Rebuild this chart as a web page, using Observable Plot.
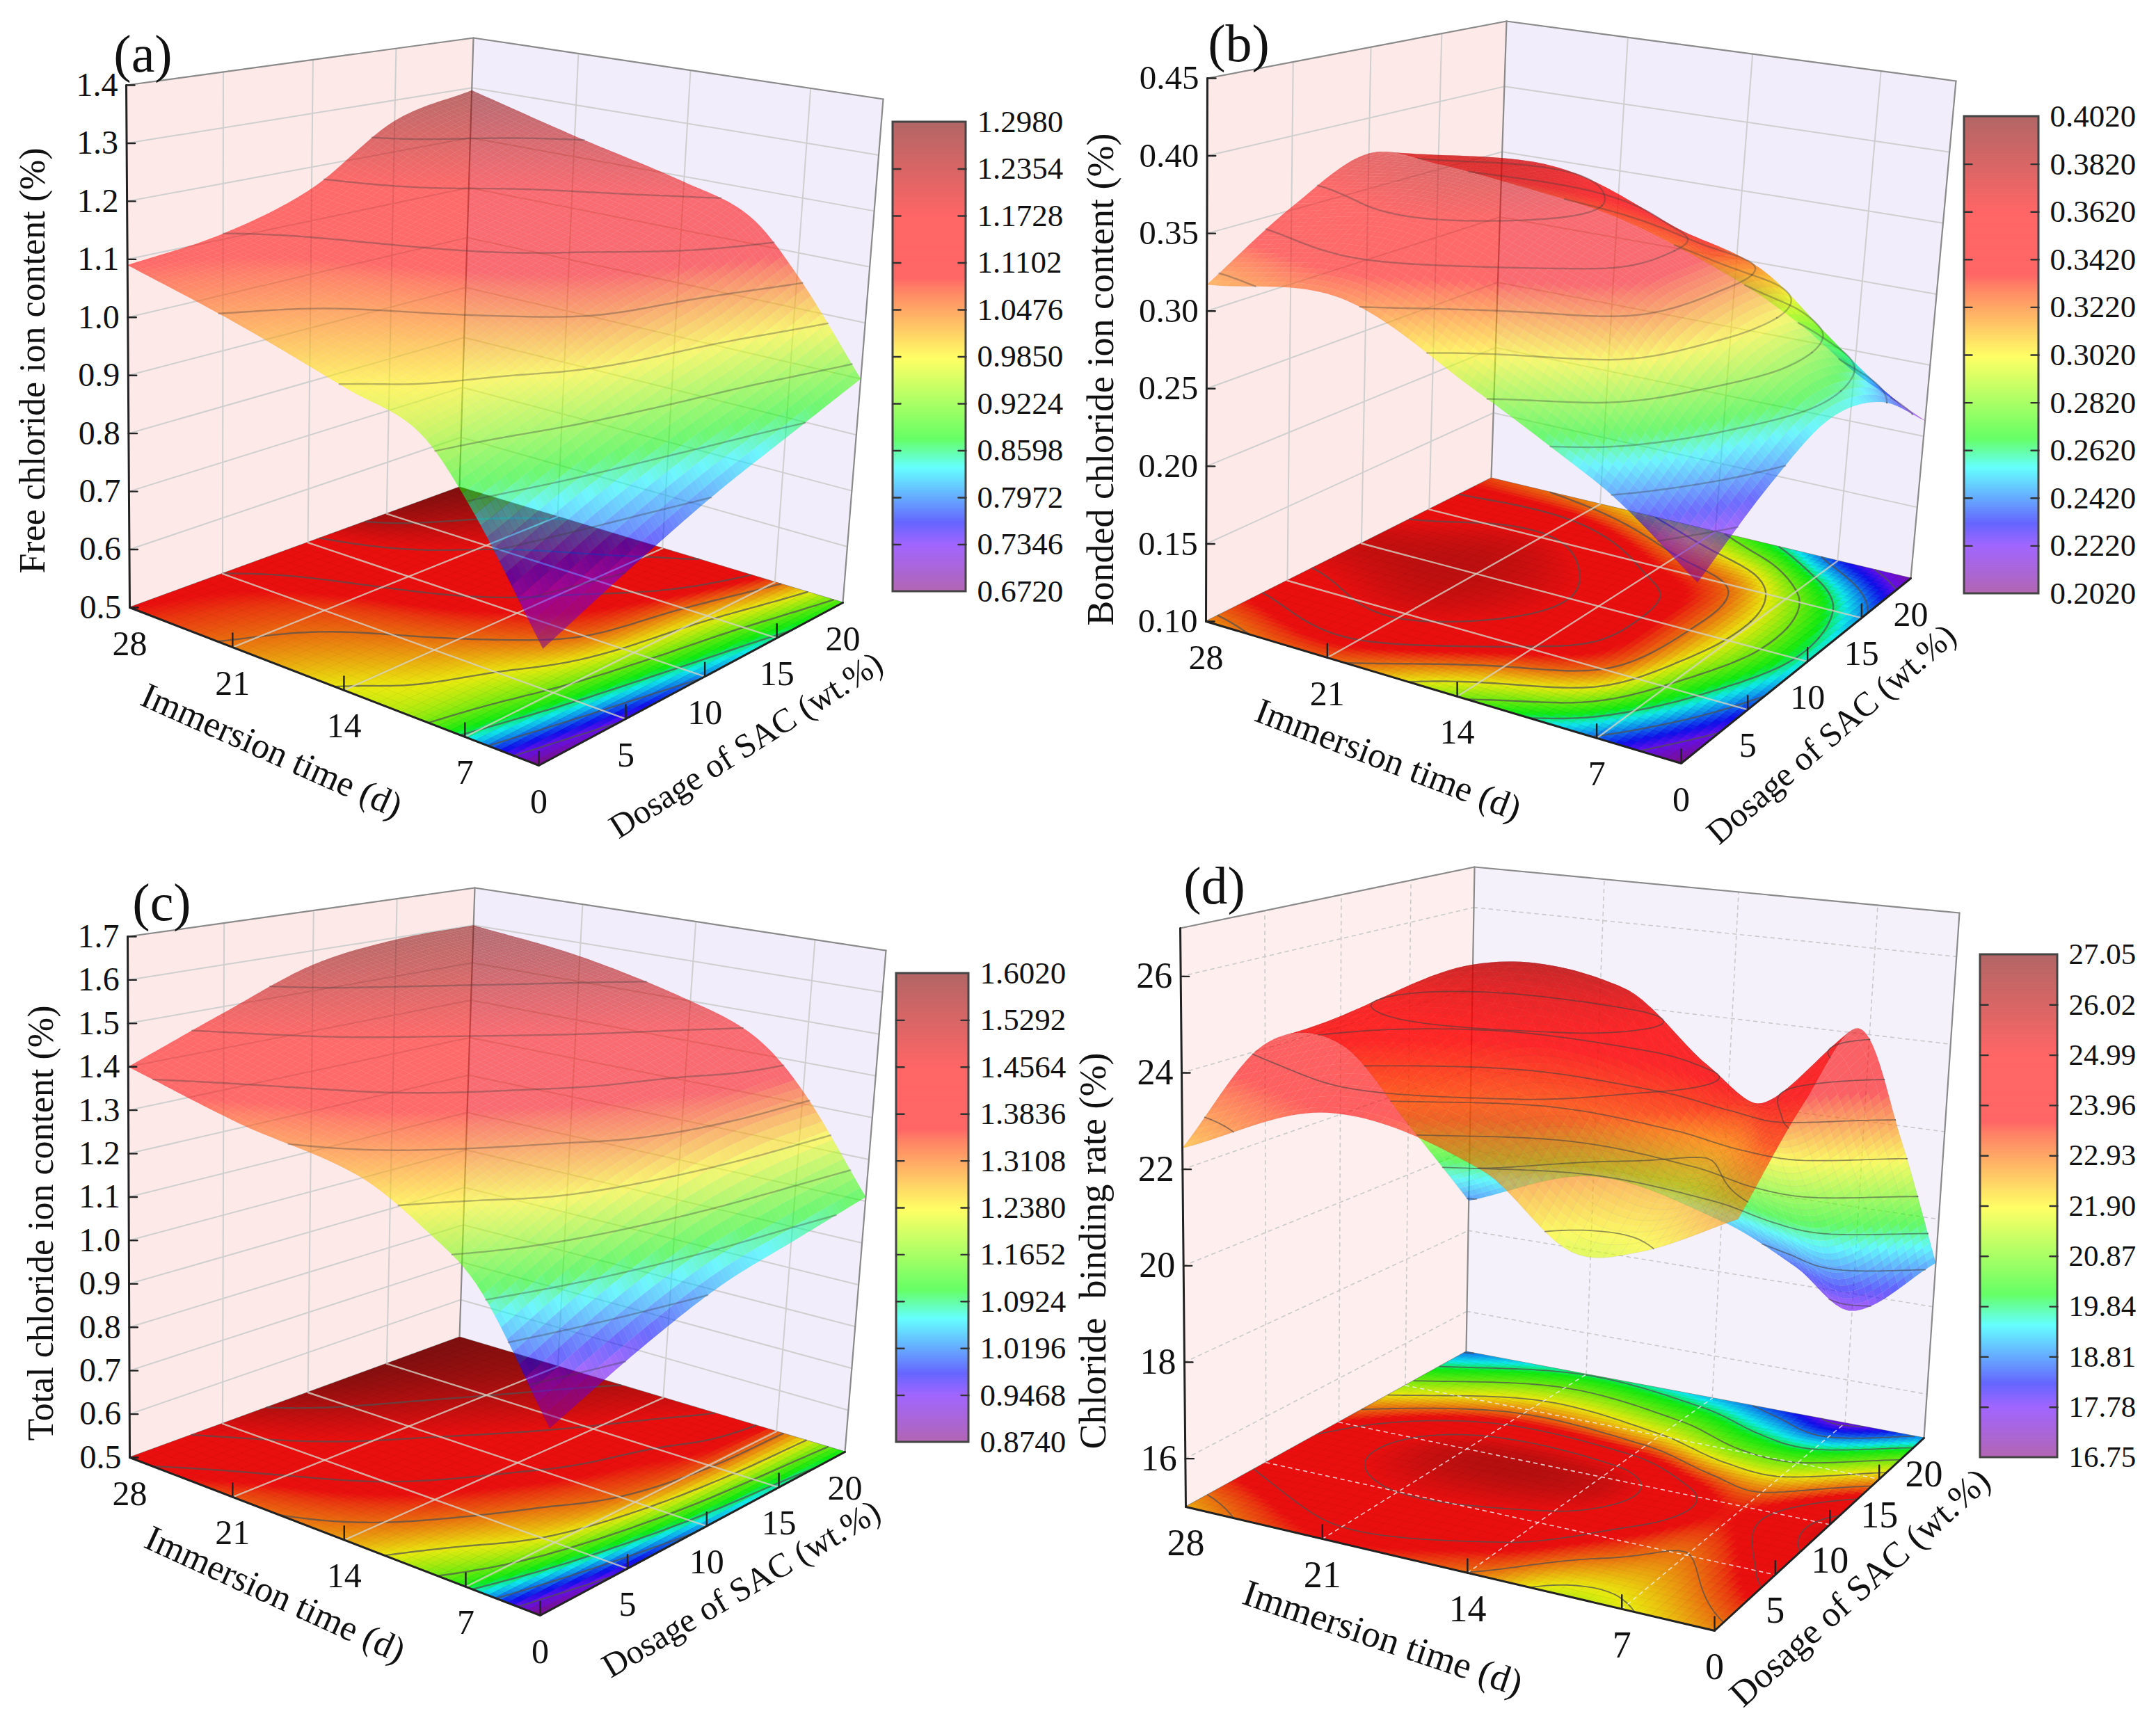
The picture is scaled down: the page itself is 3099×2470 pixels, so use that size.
<!DOCTYPE html>
<html>
<head>
<meta charset="utf-8">
<script src="https://cdn.jsdelivr.net/npm/d3@7"></script>
<script src="https://cdn.jsdelivr.net/npm/@observablehq/plot@0.6"></script>
<style>
html,body{margin:0;padding:0;background:#fff}
#root{position:relative;width:3099px;height:2470px;background:#fff;overflow:hidden}
</style>
</head>
<body>
<div id="root"></div>
<script>
// ---------- values (estimates) ----------
const times = [3, 7, 10, 14, 21, 28];
const dosages = [0, 5, 10, 15, 20];
const timeTicks = [28, 21, 14, 7];
const dosageTicks = [0, 5, 10, 15, 20];

// rows = times, columns = dosages
const freeChloride = [
  [0.675, 0.74, 0.80, 0.85, 0.90],
  [0.85, 0.91, 0.96, 1.00, 1.06],
  [0.945, 0.98, 1.05, 1.09, 1.15],
  [0.98, 1.03, 1.09, 1.13, 1.19],
  [1.04, 1.07, 1.13, 1.18, 1.24],
  [1.09, 1.11, 1.16, 1.26, 1.295]
];
const bondedChloride = [
  [0.204, 0.235, 0.255, 0.245, 0.211],
  [0.24, 0.28, 0.30, 0.29, 0.235],
  [0.26, 0.32, 0.33, 0.32, 0.26],
  [0.285, 0.34, 0.355, 0.335, 0.285],
  [0.325, 0.365, 0.378, 0.365, 0.315],
  [0.317, 0.352, 0.375, 0.354, 0.328]
];
const totalChloride = [
  [0.874, 0.96, 1.03, 1.07, 1.11],
  [1.11, 1.21, 1.28, 1.32, 1.33],
  [1.20, 1.285, 1.345, 1.38, 1.44],
  [1.28, 1.35, 1.40, 1.45, 1.50],
  [1.33, 1.42, 1.48, 1.53, 1.565],
  [1.40, 1.485, 1.565, 1.595, 1.60]
];
const bindingRate = [
  [22.7, 24.3, 25.3, 22.4, 19.0],
  [21.8, 22.9, 23.5, 20.9, 17.6],
  [21.6, 23.5, 24.2, 21.0, 18.4],
  [22.9, 24.6, 25.6, 22.0, 19.2],
  [23.6, 25.0, 25.7, 22.6, 19.8],
  [22.44, 24.1, 23.6, 21.2, 18.74]
];

const zTicksA = [0.5, 0.6, 0.7, 0.8, 0.9, 1.0, 1.1, 1.2, 1.3, 1.4];
const zTicksB = [0.10, 0.15, 0.20, 0.25, 0.30, 0.35, 0.40, 0.45];
const zTicksC = [0.5, 0.6, 0.7, 0.8, 0.9, 1.0, 1.1, 1.2, 1.3, 1.4, 1.5, 1.6, 1.7];
const zTicksD = [16, 18, 20, 22, 24, 26];

const barLabelsA = ["1.2980","1.2354","1.1728","1.1102","1.0476","0.9850","0.9224","0.8598","0.7972","0.7346","0.6720"];
const barLabelsB = ["0.4020","0.3820","0.3620","0.3420","0.3220","0.3020","0.2820","0.2620","0.2420","0.2220","0.2020"];
const barLabelsC = ["1.6020","1.5292","1.4564","1.3836","1.3108","1.2380","1.1652","1.0924","1.0196","0.9468","0.8740"];
const barLabelsD = ["27.05","26.02","24.99","23.96","22.93","21.90","20.87","19.84","18.81","17.78","16.75"];

// palette: position along the colour bar, and the colour there
const paletteStops = [0, 0.10, 0.147, 0.264, 0.325, 0.497, 0.644, 0.668, 0.80, 1];
const paletteColors = ["rgb(128,0,128)","rgb(100,0,255)","rgb(0,0,255)","rgb(0,255,255)","rgb(0,255,0)","rgb(255,255,0)","rgb(255,47,0)","rgb(255,0,0)","rgb(255,0,0)","rgb(128,0,0)"];

// ---------- layout of the four panels ----------
const FONT = "Liberation Serif";
const panels = [
  {letter:"(a)", values:freeChloride, zTicks:zTicksA, zDigits:1, zDomain:[0.5,1.4], barLabels:barLabelsA,
   zLabel:"Free chloride ion content (%)", frame:[0,1545,0,1240],
   LF:[186,873],BF:[660,700],RF:[1211,866],FF:[774,1100],LT:[181,122],BT:[680,54],RT:[1269,142],
   bar:[1283,1388,175,850], barFont:45, tickFont:48, axisFont:50, surf:0.55, dotted:false,
   zLab:[47,518,52], tLab:[390,1079,24,52], dLab:[1072,1071,-32.5,49], letterAt:[205,78]},
  {letter:"(b)", values:bondedChloride, zTicks:zTicksB, zDigits:2, zDomain:[0.10,0.45], barLabels:barLabelsB,
   zLabel:"Bonded chloride ion content (%)", frame:[1545,3099,0,1240],
   LF:[1733,893],BF:[2143,687],RF:[2746,831],FF:[2416,1097],LT:[1735,112],BT:[2165,30],RT:[2811,116],
   bar:[2823,2930,167,853], barFont:45, tickFont:49, axisFont:50, surf:0.55, dotted:false,
   zLab:[1582,545,54], tLab:[1995,1092,21,52], dLab:[2632,1055,-40.8,49], letterAt:[1780,63]},
  {letter:"(c)", values:totalChloride, zTicks:zTicksC, zDigits:1, zDomain:[0.5,1.7], barLabels:barLabelsC,
   zLabel:"Total chloride ion content (%)", frame:[0,1545,1240,2470],
   LF:[186,2095],BF:[660,1922],RF:[1214,2087],FF:[776,2322],LT:[183,1346],BT:[682,1276],RT:[1273,1366],
   bar:[1288,1392,1399,2073], barFont:45, tickFont:48, axisFont:50, surf:0.55, dotted:false,
   zLab:[59,1758,52], tLab:[395,2292,24.5,52], dLab:[1065,2284,-30.5,49], letterAt:[232,1298]},
  {letter:"(d)", values:bindingRate, zTicks:zTicksD, zDigits:0, zDomain:[15,27], barLabels:barLabelsD,
   zLabel:"Chloride  binding rate (%)", frame:[1545,3099,1240,2470],
   LF:[1704,2166],BF:[2107,1943],RF:[2765,2067],FF:[2464,2344],LT:[1696,1334],BT:[2119,1246],RT:[2816,1312],
   bar:[2846,2957,1372,2095], barFont:43, tickFont:52, axisFont:54, surf:0.6, dotted:true,
   zLab:[1571,1798,54], tLab:[1987,2355,18.6,54], dLab:[2673,2282,-42,52], letterAt:[1745,1274]}
];

// ---------- perspective helpers ----------
const cross = (a,b)=>[a[1]*b[2]-a[2]*b[1], a[2]*b[0]-a[0]*b[2], a[0]*b[1]-a[1]*b[0]];
const homog = p=>[p[0],p[1],1];
const lineThrough = (p,q)=>cross(homog(p),homog(q));
const meet = (l,m)=>{const c=cross(l,m);return [c[0]/c[2],c[1]/c[2]];};
function quadMap(p0,p1,p2,p3){
  const dx1=p1[0]-p2[0],dx2=p3[0]-p2[0],sx=p0[0]-p1[0]+p2[0]-p3[0];
  const dy1=p1[1]-p2[1],dy2=p3[1]-p2[1],sy=p0[1]-p1[1]+p2[1]-p3[1];
  const den=dx1*dy2-dx2*dy1;
  const g=(sx*dy2-dx2*sy)/den,h=(dx1*sy-sx*dy1)/den;
  const a=p1[0]-p0[0]+g*p1[0],b=p3[0]-p0[0]+h*p3[0],c=p0[0];
  const d=p1[1]-p0[1]+g*p1[1],e=p3[1]-p0[1]+h*p3[1],f=p0[1];
  return (u,v)=>{const w=g*u+h*v+1;return [(a*u+b*v+c)/w,(d*u+e*v+f)/w];};
}
// smooth display mesh through the values
function cubicAt(xs,ys,x){
  let k=0;while(k<xs.length-2&&x>xs[k+1])k++;
  const slope=i=>i===0?(ys[1]-ys[0])/(xs[1]-xs[0]):i===xs.length-1?(ys[i]-ys[i-1])/(xs[i]-xs[i-1]):(ys[i+1]-ys[i-1])/(xs[i+1]-xs[i-1]);
  const h=xs[k+1]-xs[k],q=(x-xs[k])/h,q2=q*q,q3=q2*q;
  return (2*q3-3*q2+1)*ys[k]+(q3-2*q2+q)*h*slope(k)+(-2*q3+3*q2)*ys[k+1]+(q3-q2)*h*slope(k+1);
}
const surfaceAt=(vals,s,t)=>cubicAt(times,vals.map(r=>cubicAt(dosages,r,s)),t);

const N=72; // mesh cells per side
const root=document.getElementById("root");

for(const P of panels){
  const [zmin,zmax]=P.zDomain;
  const V1=meet(lineThrough(P.LF,P.BF),lineThrough(P.FF,P.RF));
  const V2=meet(lineThrough(P.LF,P.FF),lineThrough(P.BF,P.RF));
  const FT=meet(lineThrough(P.RT,V1),lineThrough(P.LT,V2));
  const floorMap=quadMap(P.LF,P.BF,P.RF,P.FF);
  const topMap=quadMap(P.LT,P.BT,P.RT,FT);
  const U=s=>s/20, W=t=>(28-t)/25;
  const proj=(s,t,z)=>{
    const a=floorMap(U(s),W(t)),b=topMap(U(s),W(t)),w=(z-zmin)/(zmax-zmin);
    return {x:a[0]+(b[0]-a[0])*w,y:a[1]+(b[1]-a[1])*w};
  };
  const barMax=+P.barLabels[0],barMin=+P.barLabels[P.barLabels.length-1];
  const stopValue=f=>barMin+f*(barMax-barMin);

  // resampled surface, back corner first
  const sAt=i=>20*i/N, tAt=j=>28-25*j/N;
  const H=[];for(let j=0;j<=N;j++){H.push([]);for(let i=0;i<=N;i++)H[j].push(surfaceAt(P.values,sAt(i),tAt(j)));}
  const order=[];for(let j=0;j<N;j++)for(let i=0;i<N;i++)order.push([i,j]);
  order.sort((a,b)=>(b[0]-b[1])-(a[0]-a[1]));
  const surfRows=[],floorRows=[];
  order.forEach(([i,j],k)=>{
    const v=(H[j][i]+H[j][i+1]+H[j+1][i]+H[j+1][i+1])/4;
    for(const [a,b] of [[i,j],[i+1,j],[i+1,j+1],[i,j+1]]){
      surfRows.push({...proj(sAt(a),tAt(b),H[b][a]),id:k,v});
      floorRows.push({...proj(sAt(a),tAt(b),zmin),id:k,v});
    }
  });
  // mesh lines
  const meshS=[],meshF=[];let mid=0;
  for(let i=0;i<=N;i+=2){mid++;for(let j=0;j<=N;j++){meshS.push({...proj(sAt(i),tAt(j),H[j][i]),id:mid});meshF.push({...proj(sAt(i),tAt(j),zmin),id:mid});}}
  for(let j=0;j<=N;j+=2){mid++;for(let i=0;i<=N;i++){meshS.push({...proj(sAt(i),tAt(j),H[j][i]),id:mid});meshF.push({...proj(sAt(i),tAt(j),zmin),id:mid});}}

  // contours at the colour-bar ticks
  const flat=[];for(let j=0;j<=N;j++)for(let i=0;i<=N;i++)flat.push(H[j][i]);
  const levels=P.barLabels.slice(1,-1).map(Number);
  const contourS=[],contourF=[];let cid=0;
  const gridN=N+1;
  for(const level of levels){
    const geom=d3.contours().size([gridN,gridN]).thresholds([level])(flat)[0];
    for(const poly of geom.coordinates)for(const ring of poly){
      let open=false;
      for(const [cx,cy] of ring){
        const inside=cx>=0.5&&cx<=gridN-0.5&&cy>=0.5&&cy<=gridN-0.5;
        if(!inside){open=false;continue;}
        if(!open){cid++;open=true;}
        const s=20*(cx-0.5)/N,t=28-25*(cy-0.5)/N;
        contourS.push({...proj(s,t,level),id:cid});
        contourF.push({...proj(s,t,zmin),id:cid});
      }
    }
  }

  // walls, grid, frame
  const seg=(rows,id,a,b)=>{rows.push({...a,id});rows.push({...b,id});};
  const leftWall=[[0,28,zmin],[20,28,zmin],[20,28,zmax],[0,28,zmax]].map(p=>proj(...p));
  const rightWall=[[20,28,zmin],[20,3,zmin],[20,3,zmax],[20,28,zmax]].map(p=>proj(...p));
  const floorBase=[[0,28,zmin],[20,28,zmin],[20,3,zmin],[0,3,zmin]].map(p=>proj(...p));
  const gridW=[],gridF=[],frame=[],axes=[],ticks=[];let g=0;
  for(const z of P.zTicks){ if(z===zmin||z===zmax)continue;
    seg(gridW,++g,proj(0,28,z),proj(20,28,z)); seg(gridW,++g,proj(20,28,z),proj(20,3,z)); }
  for(const s of dosageTicks.slice(1,-1)){ seg(gridW,++g,proj(s,28,zmin),proj(s,28,zmax)); seg(gridF,++g,proj(s,28,zmin),proj(s,3,zmin)); }
  for(const t of timeTicks.slice(1)){ seg(gridW,++g,proj(20,t,zmin),proj(20,t,zmax)); seg(gridF,++g,proj(0,t,zmin),proj(20,t,zmin)); }
  seg(frame,++g,proj(0,28,zmax),proj(20,28,zmax));seg(frame,++g,proj(20,28,zmax),proj(20,3,zmax));
  seg(frame,++g,proj(20,28,zmin),proj(20,28,zmax));seg(frame,++g,proj(20,3,zmin),proj(20,3,zmax));
  seg(frame,++g,proj(0,28,zmin),proj(20,28,zmin));seg(frame,++g,proj(20,28,zmin),proj(20,3,zmin));
  seg(axes,++g,proj(0,28,zmin),proj(0,3,zmin));seg(axes,++g,proj(0,3,zmin),proj(20,3,zmin));
  seg(axes,++g,proj(0,28,zmin),proj(0,28,zmax));
  const up=p=>({x:p.x,y:p.y-20});
  for(const t of timeTicks.slice(1)){const p=proj(0,t,zmin);seg(ticks,++g,p,up(p));}
  for(const s of dosageTicks.slice(0,-1)){const p=proj(s,3,zmin);seg(ticks,++g,p,up(p));}
  const right=p=>({x:p.x+12,y:p.y});
  for(const z of P.zTicks){const p=proj(0,28,z);seg(ticks,++g,p,right(p));}

  // text
  const offset=52;
  const timeText=timeTicks.map(t=>{const p=proj(0,t,zmin);return {x:p.x,y:p.y+offset,label:String(t)};});
  const doseText=dosageTicks.map(s=>{const p=proj(s,3,zmin);return {x:p.x,y:p.y+offset,label:String(s)};});
  const zText=P.zTicks.map(z=>{const p=proj(0,28,z);return {x:p.x-12,y:p.y,label:z.toFixed(P.zDigits)};});

  // colour bar
  const [bx1,bx2,by1,by2]=P.bar;
  const barY=v=>by2-(v-barMin)/(barMax-barMin)*(by2-by1);
  const bands=d3.range(300).map(k=>{const a=barMin+(barMax-barMin)*k/300,b=barMin+(barMax-barMin)*(k+1)/300;
    return {x1:bx1,x2:bx2,y1:barY(a),y2:barY(b),v:(a+b)/2};});
  const barTicks=[];
  for(const l of P.barLabels.slice(1,-1)){const y=barY(+l);
    seg(barTicks,++g,{x:bx1,y},{x:bx1+11,y});seg(barTicks,++g,{x:bx2-11,y},{x:bx2,y});}
  const barText=P.barLabels.map(l=>({x:bx2+16,y:barY(+l),label:l}));

  const greys=P.dotted?{grid:"#c9c9c9",dash:"5,6",floor:"#f0f0f0",width:1.6}:{grid:"#cfcfcf",dash:null,floor:"#d6d2c4",width:2.4};
  const lineOpts={x:"x",y:"y",z:"id"};
  const [x0,x1,y0,y1]=P.frame;

  const svg=Plot.plot({
    width:x1-x0,height:y1-y0,margin:0,
    x:{domain:[x0,x1],range:[0,x1-x0],axis:null},
    y:{domain:[y0,y1],range:[0,y1-y0],axis:null},
    color:{type:"linear",domain:paletteStops.map(stopValue),range:paletteColors,clamp:true,interpolate:"rgb"},
    style:{position:"absolute",left:x0+"px",top:y0+"px",background:"transparent",fontFamily:FONT,overflow:"visible"},
    marks:[
      Plot.line(leftWall,{x:"x",y:"y",curve:"linear-closed",fill:P.dotted?"#feeeee":"#fde9e8",stroke:"none"}),
      Plot.line(rightWall,{x:"x",y:"y",curve:"linear-closed",fill:P.dotted?"#f4f1fb":"#f2edfb",stroke:"none"}),
      Plot.line(gridW,{...lineOpts,stroke:greys.grid,strokeWidth:P.dotted?1.6:2,strokeDasharray:greys.dash}),
      Plot.line(frame,{...lineOpts,stroke:"#8a8a8a",strokeWidth:2.2}),
      Plot.line(floorBase,{x:"x",y:"y",curve:"linear-closed",fill:"#6e6e6e",stroke:"none"}),
      Plot.line(floorRows,{...lineOpts,curve:"linear-closed",fill:"v",stroke:"v",strokeWidth:1}),
      Plot.line(meshF,{...lineOpts,stroke:"#000",strokeOpacity:0.04,strokeWidth:1}),
      Plot.line(contourF,{...lineOpts,stroke:"#505050",strokeOpacity:P.dotted?0.75:0.7,strokeWidth:P.dotted?1.8:2.4}),
      Plot.line(gridF,{...lineOpts,stroke:greys.floor,strokeOpacity:0.8,strokeWidth:greys.width,strokeDasharray:greys.dash}),
      Plot.line(surfRows,{...lineOpts,curve:"linear-closed",fill:"v",fillOpacity:P.surf,stroke:"none"}),
      Plot.line(meshS,{...lineOpts,stroke:"#000",strokeOpacity:P.dotted?0.05:0.02,strokeWidth:1}),
      Plot.line(contourS,{...lineOpts,stroke:"#404040",strokeOpacity:P.dotted?0.55:0.35,strokeWidth:P.dotted?1.8:2.4}),
      Plot.line(axes,{...lineOpts,stroke:"#222",strokeWidth:3}),
      Plot.line(ticks,{...lineOpts,stroke:"#222",strokeWidth:2.4}),
      Plot.rect(bands,{x1:"x1",x2:"x2",y1:"y1",y2:"y2",fill:"v",stroke:"v",strokeWidth:1}),
      Plot.rect([{x1:bx1,x2:bx2,y1:by1,y2:by2}],{x1:"x1",x2:"x2",y1:"y1",y2:"y2",fill:"none",stroke:"#444",strokeWidth:3}),
      Plot.line(barTicks,{...lineOpts,stroke:"#333",strokeWidth:2.4}),
      Plot.text(barText,{x:"x",y:"y",text:"label",fontSize:P.barFont,fontFamily:FONT,textAnchor:"start",fill:"#111"}),
      Plot.text(zText,{x:"x",y:"y",text:"label",fontSize:P.tickFont,fontFamily:FONT,textAnchor:"end",fill:"#111"}),
      Plot.text(timeText,{x:"x",y:"y",text:"label",fontSize:P.axisFont,fontFamily:FONT,fill:"#111"}),
      Plot.text(doseText,{x:"x",y:"y",text:"label",fontSize:P.axisFont,fontFamily:FONT,fill:"#111"}),
      Plot.text([{x:P.zLab[0],y:P.zLab[1],label:P.zLabel}],{x:"x",y:"y",text:"label",rotate:-90,fontSize:P.zLab[2],fontFamily:FONT,fill:"#111"}),
      Plot.text([{x:P.tLab[0],y:P.tLab[1],label:"Immersion time (d)"}],{x:"x",y:"y",text:"label",rotate:P.tLab[2],fontSize:P.tLab[3],fontFamily:FONT,fill:"#111"}),
      Plot.text([{x:P.dLab[0],y:P.dLab[1],label:"Dosage of SAC (wt.%)"}],{x:"x",y:"y",text:"label",rotate:P.dLab[2],fontSize:P.dLab[3],fontFamily:FONT,fill:"#111"}),
      Plot.text([{x:P.letterAt[0],y:P.letterAt[1],label:P.letter}],{x:"x",y:"y",text:"label",fontSize:76,fontFamily:FONT,fill:"#111"})
    ]
  });
  const lineGroups=svg.querySelectorAll('g[aria-label="line"]');
  lineGroups[5].setAttribute("opacity",0.86);
  svg.querySelectorAll('g[aria-label="rect"]')[0].setAttribute("opacity",0.6);
  root.appendChild(svg);
}
</script>
</body>
</html>
